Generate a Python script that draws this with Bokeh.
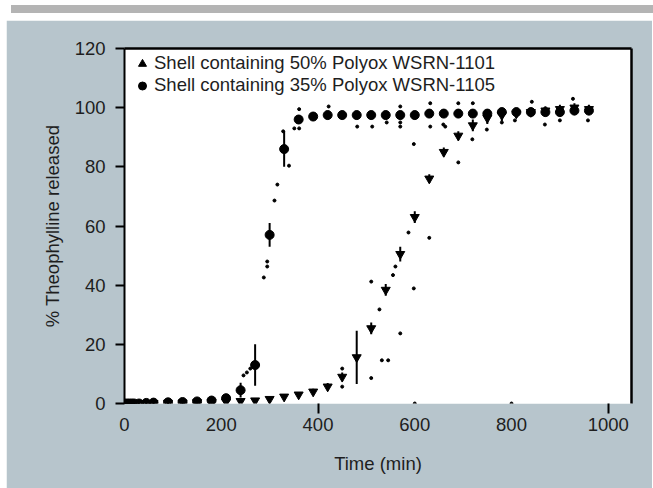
from bokeh.plotting import figure
from bokeh.models import (Range1d, FixedTicker, LinearAxis, Legend, LegendItem, Div,
                          ColumnDataSource)
from bokeh.layouts import column
from bokeh.embed import file_html
from bokeh.resources import INLINE

# ---------------- data ----------------
time_min = [0, 5, 10, 15, 20, 30, 45, 60, 90, 120, 150, 180, 210, 240, 270, 300,
            330, 360, 390, 420, 450, 480, 510, 540, 570, 600, 630, 660, 690, 720,
            750, 780, 810, 840, 870, 900, 930, 960]

# Shell containing 35% Polyox WSRN-1105 (circles)
rel_1105 = [0, 0, 0, 0, 0, 0, 0.2, 0.3, 0.4, 0.5, 0.7, 1.0, 1.8, 4.5, 13, 57,
            86, 96, 97, 97.5, 97.5, 97.5, 97.5, 97.5, 97.5, 97.5, 98, 98, 98, 98,
            98, 98.5, 98.5, 98.5, 98.5, 98.5, 99, 99]
sd_1105 = [0.5, 0.5, 0.5, 0.5, 0.5, 0.5, 0.5, 0.5, 0.5, 0.5, 0.5, 0.5, 0.8, 2.5, 7, 4,
           6, 1.5, 1.5, 1.5, 1.5, 1.5, 1.5, 1.5, 1.5, 1.5, 1.5, 1.5, 1.5, 1.5,
           1.5, 1.5, 1.5, 1.5, 1.5, 1.5, 1.5, 1.5]

# Shell containing 50% Polyox WSRN-1101 (triangles)
rel_1101 = [0, 0, 0, 0, 0, 0, 0, 0.1, 0.2, 0.3, 0.4, 0.5, 0.6, 0.8, 1.0, 1.5,
            2.3, 3.0, 4.0, 5.7, 9.0, 15.6, 25.4, 38.4, 50.5, 63, 76, 85, 90.5, 94,
            96.5, 97.5, 98, 98.5, 99, 99.5, 100, 99.5]
sd_1101 = [0.4, 0.4, 0.4, 0.4, 0.4, 0.4, 0.4, 0.4, 0.4, 0.4, 0.4, 0.4, 0.5, 0.5, 0.5, 0.5,
           0.6, 0.8, 1.0, 1.2, 1.5, 9, 2, 2, 2.5, 2, 1.5, 1.5, 1.5, 2,
           2, 2, 1.5, 1.5, 1.5, 1.5, 1.5, 1.5]

# individual tablet values shown as small dots
dot_time = [246, 253, 260, 288, 295, 295, 310, 316, 328, 340, 351, 361, 361, 422,
            542, 570, 570, 598, 450, 450, 510, 510, 527, 532, 545, 555, 560, 570,
            587, 598, 630, 690, 719, 600, 800, 481, 512, 570, 632, 632, 663, 690,
            720, 659, 749, 780, 807, 842, 869, 900, 927, 958]
dot_release = [9.5, 10.5, 11.8, 42.6, 46.3, 48, 68.6, 74, 92, 80.4, 93, 93, 99.5, 100.4,
               95, 95, 100.4, 87.7, 11.8, 5.7, 8.6, 41.2, 31.8, 14.6, 14.6, 43.4, 46.3, 23.7,
               57.8, 38.9, 56, 81.5, 89.3, 0, 0, 93.6, 93.6, 93.6, 101.5, 93.6, 93.6, 101.5,
               101.5, 94.3, 92.6, 95, 95.7, 102, 94.3, 95.7, 103, 95.7]

x_ticks = [0, 200, 400, 600, 800, 1000]
x_marked_ticks = [400, 1000]
y_ticks = [0, 20, 40, 60, 80, 100, 120]

label_1101 = "Shell containing 50% Polyox WSRN-1101"
label_1105 = "Shell containing 35% Polyox WSRN-1105"

# ---------------- styling ----------------
FONT = "Liberation Sans"
FS = "18.5px"
BG = "#b7c5cc"
TXT = "#1e1e1e"

p = figure(width=646, height=469,
           min_border_left=118, min_border_right=21, min_border_top=28, min_border_bottom=86,
           x_range=Range1d(0, 1048), y_range=Range1d(0, 120),
           output_backend="svg", toolbar_location=None,
           border_fill_color=BG, background_fill_color="white",
           outline_line_color=None)
p.xgrid.visible = False
p.ygrid.visible = False
p.extra_y_ranges = {"legend_only": Range1d(1000, 1120)}

# x axis
xa = p.xaxis[0]
xa.ticker = FixedTicker(ticks=x_ticks, minor_ticks=x_marked_ticks)
xa.axis_line_color = None
xa.major_tick_out = 0
xa.major_tick_in = 0
xa.minor_tick_out = 10
xa.minor_tick_in = 0
xa.minor_tick_line_width = 2
xa.minor_tick_line_color = "black"
xa.major_label_standoff = 4
xa.axis_label = "Time (min)"
xa.axis_label_standoff = 19
xa.axis_label_text_font_style = "normal"

# y axis
ya = p.yaxis[0]
ya.ticker = FixedTicker(ticks=y_ticks, minor_ticks=[])
ya.axis_line_width = 2
ya.major_tick_out = 9
ya.major_tick_in = 0
ya.major_tick_line_width = 2
ya.major_label_standoff = 10
ya.axis_label = "% Theophylline released"
ya.axis_label_standoff = 9
ya.axis_label_text_font_style = "normal"

for ax in (xa, ya):
    ax.major_label_text_font = FONT
    ax.major_label_text_font_size = FS
    ax.major_label_text_color = TXT
    ax.axis_label_text_font = FONT
    ax.axis_label_text_font_size = FS
    ax.axis_label_text_color = TXT

# frame lines on top and right
for loc in ("above", "right"):
    fa = LinearAxis(ticker=FixedTicker(ticks=[], minor_ticks=[]),
                    axis_line_width=2.5, axis_line_color="black",
                    major_tick_line_color=None, minor_tick_line_color=None,
                    major_label_text_color=None)
    p.add_layout(fa, loc)

src = ColumnDataSource(dict(
    t=time_min,
    m1105=rel_1105, lo1105=[m - s for m, s in zip(rel_1105, sd_1105)],
    hi1105=[m + s for m, s in zip(rel_1105, sd_1105)],
    m1101=rel_1101, lo1101=[m - s for m, s in zip(rel_1101, sd_1101)],
    hi1101=[m + s for m, s in zip(rel_1101, sd_1101)],
))

# error bars
p.segment(x0="t", y0="lo1105", x1="t", y1="hi1105", source=src, line_color="black", line_width=2)
p.segment(x0="t", y0="lo1101", x1="t", y1="hi1101", source=src, line_color="black", line_width=2)

# individual values
p.scatter(x=dot_time, y=dot_release, marker="circle", size=3, color="black")

# means
p.scatter(x="t", y="m1101", source=src, marker="inverted_triangle", size=9, color="black")
p.scatter(x="t", y="m1105", source=src, marker="circle", size=9, color="black")

# legend glyphs: same data on a range where they fall outside the view
leg_tri = p.scatter(x="t", y="m1101", source=src, y_range_name="legend_only",
                    marker="triangle", size=8, color="black")
leg_cir = p.scatter(x="t", y="m1105", source=src, y_range_name="legend_only",
                    marker="circle", size=8, color="black")
legend = Legend(items=[LegendItem(label=label_1101, renderers=[leg_tri]),
                       LegendItem(label=label_1105, renderers=[leg_cir])],
                location=(8, 307), border_line_color=None, background_fill_alpha=0,
                padding=0, margin=0, spacing=0, glyph_width=20, glyph_height=21,
                label_height=21, label_standoff=2,
                label_text_font=FONT, label_text_font_size=FS, label_text_color=TXT)
p.add_layout(legend)

bar = Div(text="", width=646, height=8, styles={"background-color": "#b4b4b4"})
layout = column(bar, p, spacing=2, styles={"margin-left": "6px"})

open("out.html", "w").write(file_html(layout, INLINE))
